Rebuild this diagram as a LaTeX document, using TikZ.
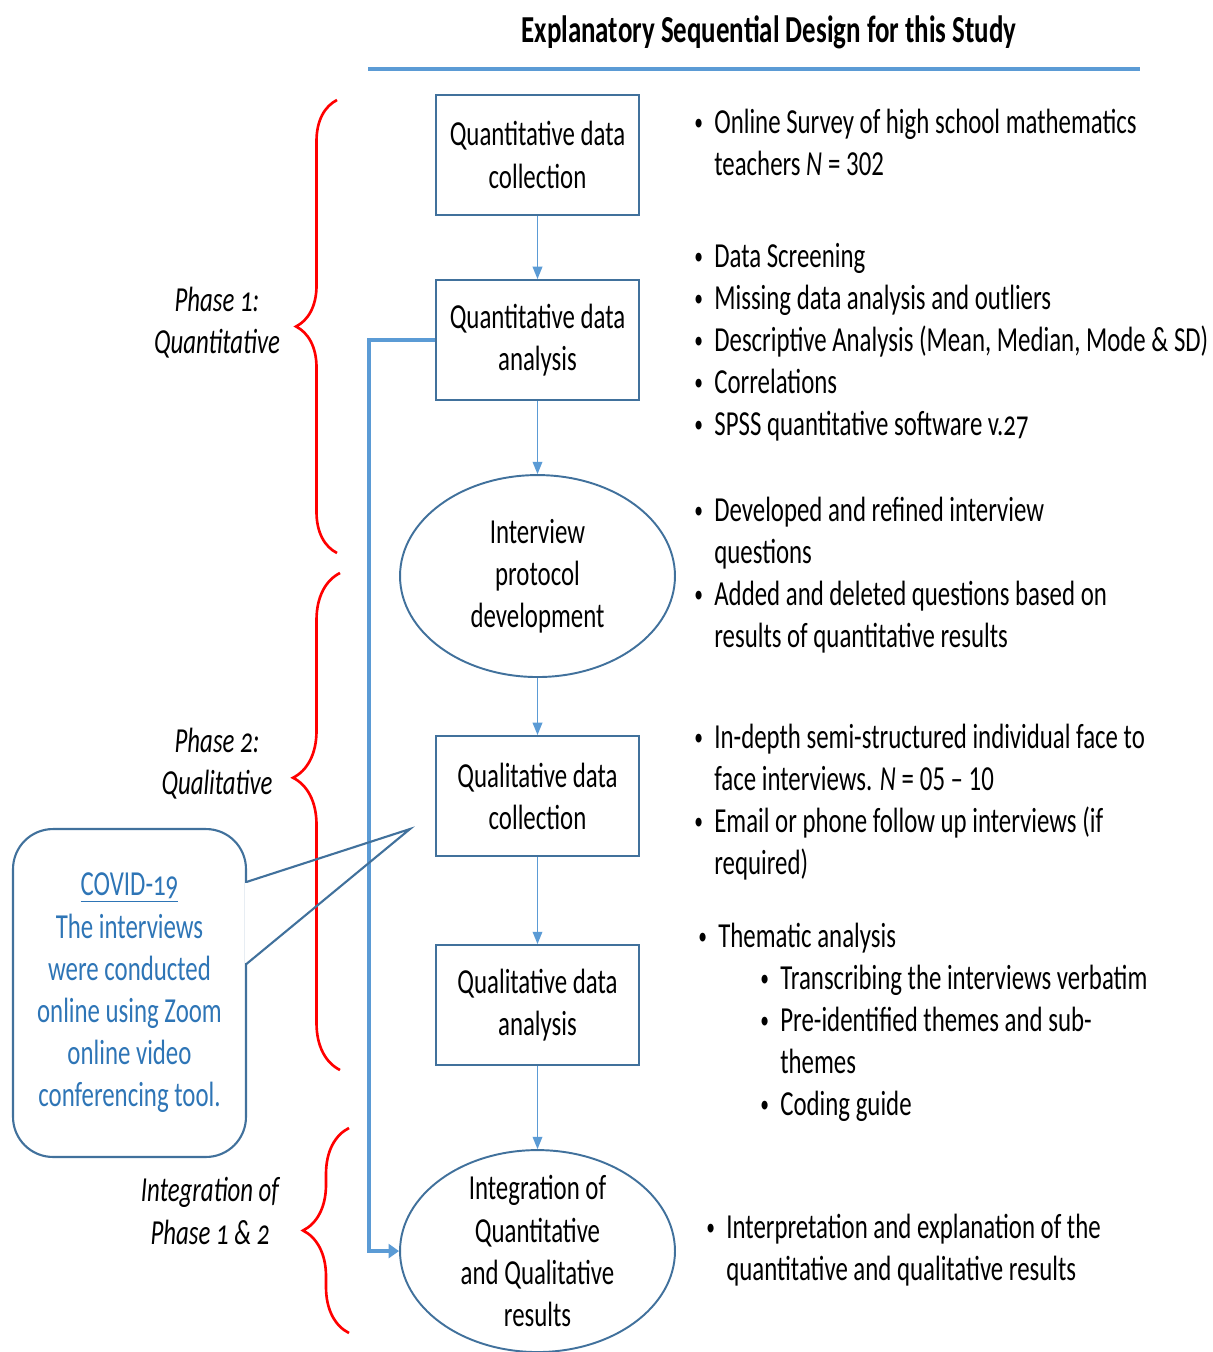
\documentclass[tikz,border=0pt]{standalone}
\usepackage{fontspec}
\setmainfont{Carlito}[FakeStretch=0.707,Numbers=OldStyle]
\usetikzlibrary{shapes.geometric, arrows.meta, positioning, calc, decorations.pathreplacing}
\definecolor{boxline}{RGB}{65,113,156}
\definecolor{flowblue}{RGB}{91,155,213}
\definecolor{notecolor}{RGB}{46,117,182}
\newcommand{\diagfont}{\fontsize{20}{24}\selectfont}
\newcommand{\bl}{\makebox[0.4cm][l]{\raisebox{1.6pt}{\fontsize{14}{14}\selectfont\textbullet}}}
\newcommand{\lin}[1]{{\addfontfeatures{Numbers=Lining}#1}}

\begin{document}
\begin{tikzpicture}[
    x=0.02cm, y=-0.02cm,
    stepbox/.style={rectangle, draw=boxline, line width=1.2pt, minimum width=4.06cm, minimum height=2.4cm, align=center, font=\diagfont},
    stepoval/.style={ellipse, draw=boxline, line width=1.1pt, minimum width=5.5cm, minimum height=4.04cm, inner sep=0pt},
    ovaltext/.style={align=center, font=\diagfont},
    notes/.style={anchor=base west, inner sep=0pt, font=\diagfont},
    phaselabel/.style={align=center, font=\diagfont\itshape},
    phasebrace/.style={draw=red, line width=1.5pt, decorate},
    flow/.style={draw=flowblue, line width=0.8pt, -{Triangle[width=5.5pt,length=7pt]}},
    feedback/.style={draw=flowblue, line width=1.8pt, -{Triangle[width=8pt,length=6pt]}},
    callout/.style={rectangle, rounded corners=0.8cm, draw=boxline, line width=1.2pt, minimum width=4.66cm, minimum height=6.56cm, align=center, text=notecolor, font=\diagfont}
]
    \useasboundingbox (0,0) rectangle (1213,1352);

    % Title
    \node[font=\fontsize{21.7}{24}\selectfont\bfseries] (title) at (769,32) {Explanatory Sequential Design for this Study};
    \draw[flowblue, line width=2.3pt] (368,69) -- (1140,69);

    % Steps of the design
    \node[stepbox] (qncoll) at (537.5,155) {Quantitative data\\collection};
    \node[stepbox, below=1.26cm of qncoll] (qnanal) {Quantitative data\\analysis};
    \node[stepoval, below=1.46cm of qnanal, label={[ovaltext]center:Interview\\protocol\\development}] (protocol) {};
    \node[stepbox, below=1.14cm of protocol] (qlcoll) {Qualitative data\\collection};
    \node[stepbox, below=1.74cm of qlcoll] (qlanal) {Qualitative data\\analysis};
    \node[stepoval, below=1.66cm of qlanal, label={[ovaltext]center:Integration of\\Quantitative\\and Qualitative\\results}] (integ) {};

    % Arrows
    \draw[flow] (qncoll) -- (qnanal);
    \draw[flow] (qnanal) -- (protocol);
    \draw[flow] (protocol) -- (qlcoll);
    \draw[flow] (qlcoll) -- (qlanal);
    \draw[flow] (qlanal) -- (integ);
    \draw[feedback] (qnanal.west) -- ++(-66,0) |- (integ.west);

    % Notes on the right
    \node[notes] (surveynote) at (694,133) {\begin{tabular}[t]{@{}l@{}l@{}}
        \bl & Online Survey of high school mathematics\\
            & teachers \textit{N}\,=\,\lin{302}
        \end{tabular}};
    \node[notes] (screennote) at (694,267) {\begin{tabular}[t]{@{}l@{}l@{}}
        \bl & Data Screening\\
        \bl & Missing data analysis and outliers\\
        \bl & Descriptive Analysis (Mean, Median, Mode \& SD)\\
        \bl & Correlations\\
        \bl & SPSS quantitative software v.27
        \end{tabular}};
    \node[notes] (protocolnote) at (694,521) {\begin{tabular}[t]{@{}l@{}l@{}}
        \bl & Developed and refined interview\\
            & questions\\
        \bl & Added and deleted questions based on\\
            & results of quantitative results
        \end{tabular}};
    \node[notes] (qlcollnote) at (694,748) {\begin{tabular}[t]{@{}l@{}l@{}}
        \bl & In-depth semi-structured individual face to\\
            & face interviews. \textit{N}\,=\,\lin{05 – 10}\\
        \bl & Email or phone follow up interviews (if\\
            & required)
        \end{tabular}};
    \node[notes] (thematicnote) at (698,947) {\bl Thematic analysis};
    \node[notes] (thematicsub) at (760,989) {\begin{tabular}[t]{@{}l@{}l@{}}
        \bl & Transcribing the interviews verbatim\\
        \bl & Pre-identified themes and sub-\\
            & themes\\
        \bl & Coding guide
        \end{tabular}};
    \node[notes] (integnote) at (706,1238) {\begin{tabular}[t]{@{}l@{}l@{}}
        \bl & Interpretation and explanation of the\\
            & quantitative and qualitative results
        \end{tabular}};

    % Phases
    \node[phaselabel] (phaseone) at (217,323) {Phase 1:\\Quantitative};
    \node[phaselabel] (phasetwo) at (217,764) {Phase 2:\\Qualitative};
    \node[phaselabel] (phasemix) at (210,1211) {Integration of\\Phase 1 \& 2};
    \draw[phasebrace, decoration={brace, amplitude=0.82cm}] (337,553) -- (337,100);
    \draw[phasebrace, decoration={brace, amplitude=0.94cm, aspect=0.588}] (340,1070) -- (340,573);
    \draw[phasebrace, decoration={brace, amplitude=0.92cm}] (349,1333) -- (349,1128);

    % COVID-19 callout
    \node[callout] (covid) at (129.5,993) {\underline{COVID-19}\\The interviews\\were conducted\\online using Zoom\\online video\\conferencing tool.};
    \coordinate (covidtip) at (410,829);
    \fill[white] ($(covid.north east)+(-2,55)$) rectangle ($(covid.north east)+(2,135)$);
    \draw[boxline, line width=1.2pt, line join=miter] ($(covid.north east)+(-0.6,54)$) -- (covidtip) -- ($(covid.north east)+(-0.6,136)$);

\end{tikzpicture}
\end{document}
